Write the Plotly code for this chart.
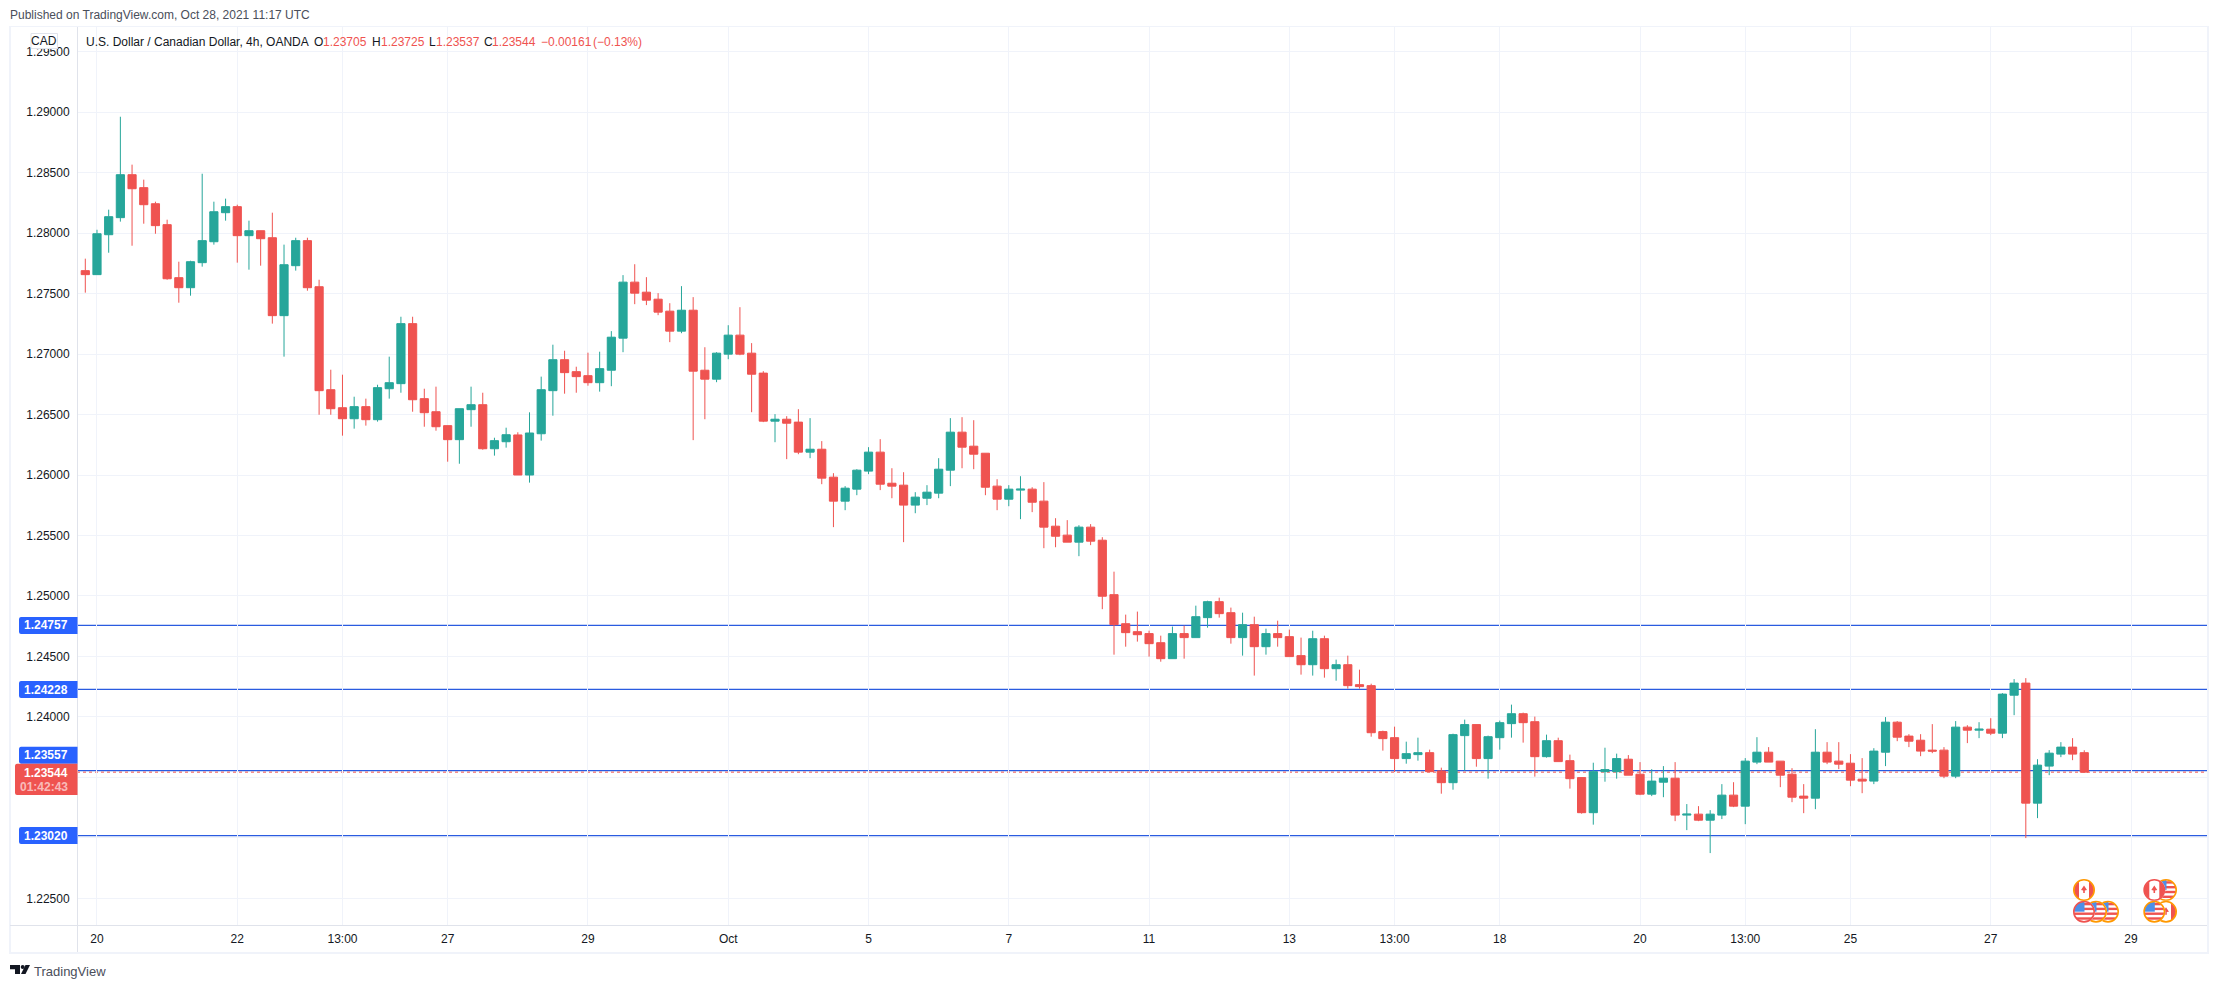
import base64
import plotly.graph_objects as go

opens = [1.27689,1.27656,1.27986,1.28127,1.28482,1.28375,1.28242,1.28069,1.27631,1.27548,
1.27755,1.27928,1.28168,1.28218,1.27978,1.28019,1.27961,1.27317,1.27730,1.27937,
1.27556,1.26705,1.26556,1.26465,1.26565,1.26457,1.26713,1.26755,1.27251,1.26631,
1.26523,1.26408,1.26292,1.26540,1.26581,1.26217,1.26275,1.26331,1.26000,1.26341,
1.26697,1.26953,1.26854,1.26821,1.26763,1.26866,1.27131,1.27594,1.27511,1.27453,
1.27354,1.27189,1.27362,1.26866,1.26792,1.26999,1.27156,1.27007,1.26842,1.26445,
1.26461,1.26437,1.26189,1.26213,1.25982,1.25784,1.25883,1.26032,1.26189,1.25932,
1.25916,1.25751,1.25808,1.25850,1.26040,1.26354,1.26238,1.26180,1.25908,1.25800,
1.25875,1.25883,1.25784,1.25577,1.25503,1.25445,1.25569,1.25461,1.25011,1.24771,
1.24705,1.24689,1.24614,1.24482,1.24689,1.24656,1.24821,1.24953,1.24862,1.24656,
1.24763,1.24581,1.24689,1.24664,1.24507,1.24432,1.24647,1.24399,1.24432,1.24267,
1.24259,1.23879,1.23829,1.23656,1.23689,1.23705,1.23554,1.23457,1.23846,1.23937,
1.23656,1.23829,1.23945,1.24027,1.23961,1.23672,1.23804,1.23639,1.23499,1.23209,
1.23548,1.23548,1.23651,1.23527,1.23362,1.23461,1.23494,1.23189,1.23197,1.23147,
1.23189,1.23354,1.23263,1.23627,1.23709,1.23635,1.23527,1.23346,1.23329,1.23709,
1.23635,1.23618,1.23486,1.23470,1.23709,1.23957,1.23842,1.23808,1.23726,1.23726,
1.23511,1.23916,1.23891,1.23899,1.23866,1.24180,1.24280,1.23288,1.23594,1.23693,
1.23751,1.23705]

highs = [1.27788,1.28027,1.28193,1.28961,1.28565,1.28441,1.28259,1.28110,1.27763,1.27771,
1.28490,1.28259,1.28284,1.28234,1.28102,1.28019,1.28168,1.27904,1.27961,1.27961,
1.27614,1.26870,1.26829,1.26647,1.26631,1.26746,1.26978,1.27308,1.27308,1.26713,
1.26730,1.26408,1.26548,1.26730,1.26680,1.26308,1.26391,1.26353,1.26518,1.26813,
1.27077,1.27027,1.26895,1.27011,1.27019,1.27189,1.27652,1.27742,1.27635,1.27503,
1.27420,1.27561,1.27470,1.27056,1.27015,1.27238,1.27387,1.27090,1.26858,1.26503,
1.26486,1.26544,1.26470,1.26280,1.26015,1.25908,1.26048,1.26230,1.26296,1.26056,
1.26023,1.25858,1.25916,1.26139,1.26470,1.26478,1.26453,1.26180,1.25965,1.25916,
1.25990,1.25899,1.25941,1.25643,1.25627,1.25585,1.25594,1.25486,1.25201,1.24846,
1.24871,1.24713,1.24672,1.24747,1.24755,1.24920,1.24961,1.24986,1.24904,1.24862,
1.24829,1.24730,1.24796,1.24722,1.24656,1.24713,1.24672,1.24474,1.24507,1.24391,
1.24275,1.23887,1.23920,1.23796,1.23829,1.23730,1.23581,1.23862,1.23978,1.23937,
1.23846,1.23970,1.24102,1.24036,1.24003,1.23854,1.23829,1.23689,1.23499,1.23622,
1.23746,1.23697,1.23685,1.23627,1.23569,1.23594,1.23627,1.23280,1.23263,1.23230,
1.23445,1.23461,1.23660,1.23833,1.23751,1.23635,1.23577,1.23445,1.23899,1.23792,
1.23792,1.23693,1.23660,1.23742,1.23999,1.23966,1.23858,1.23858,1.23941,1.23751,
1.23966,1.23932,1.23957,1.23990,1.24197,1.24313,1.24321,1.23651,1.23726,1.23792,
1.23825,1.23725]

lows = [1.27507,1.27656,1.27837,1.28094,1.27895,1.28077,1.27994,1.27614,1.27424,1.27482,
1.27722,1.27904,1.28102,1.27755,1.27697,1.27730,1.27251,1.26978,1.27689,1.27523,
1.26498,1.26498,1.26325,1.26383,1.26408,1.26441,1.26631,1.26680,1.26523,1.26399,
1.26366,1.26110,1.26093,1.26399,1.26209,1.26160,1.26226,1.26000,1.25937,1.26284,
1.26490,1.26672,1.26680,1.26738,1.26689,1.26734,1.27015,1.27412,1.27404,1.27321,
1.27098,1.27172,1.26288,1.26461,1.26767,1.26957,1.26990,1.26519,1.26437,1.26271,
1.26131,1.26172,1.26139,1.25924,1.25569,1.25709,1.25833,1.26007,1.25875,1.25808,
1.25445,1.25684,1.25751,1.25808,1.25908,1.26056,1.26048,1.25833,1.25709,1.25742,
1.25635,1.25693,1.25395,1.25403,1.25445,1.25329,1.25420,1.24891,1.24515,1.24581,
1.24623,1.24499,1.24457,1.24482,1.24482,1.24656,1.24738,1.24821,1.24606,1.24507,
1.24342,1.24515,1.24581,1.24499,1.24350,1.24342,1.24325,1.24300,1.24234,1.24234,
1.23837,1.23722,1.23545,1.23614,1.23639,1.23545,1.23366,1.23399,1.23554,1.23589,
1.23490,1.23730,1.23829,1.23788,1.23507,1.23664,1.23631,1.23408,1.23201,1.23110,
1.23465,1.23490,1.23519,1.23354,1.23346,1.23337,1.23139,1.23065,1.23139,1.22875,
1.23156,1.23255,1.23114,1.23610,1.23627,1.23420,1.23296,1.23205,1.23238,1.23610,
1.23569,1.23428,1.23370,1.23445,1.23594,1.23800,1.23751,1.23676,1.23701,1.23494,
1.23494,1.23784,1.23825,1.23850,1.23825,1.24015,1.22999,1.23164,1.23519,1.23668,
1.23643,1.23537]

closes = [1.27656,1.27994,1.28135,1.28482,1.28366,1.28234,1.28061,1.27622,1.27548,1.27763,
1.27937,1.28176,1.28218,1.27978,1.28019,1.27953,1.27317,1.27738,1.27937,1.27548,
1.26697,1.26548,1.26465,1.26565,1.26457,1.26722,1.26763,1.27251,1.26622,1.26515,
1.26399,1.26292,1.26548,1.26581,1.26217,1.26284,1.26333,1.26000,1.26347,1.26705,
1.26953,1.26846,1.26813,1.26763,1.26879,1.27139,1.27594,1.27503,1.27445,1.27346,
1.27189,1.27362,1.26858,1.26792,1.27007,1.27156,1.26999,1.26833,1.26445,1.26461,
1.26428,1.26189,1.26213,1.25974,1.25784,1.25891,1.26040,1.26189,1.25924,1.25908,
1.25751,1.25817,1.25858,1.26048,1.26354,1.26230,1.26172,1.25899,1.25800,1.25883,
1.25883,1.25775,1.25569,1.25494,1.25445,1.25569,1.25453,1.24998,1.24763,1.24697,
1.24680,1.24606,1.24482,1.24689,1.24656,1.24829,1.24953,1.24854,1.24656,1.24763,
1.24581,1.24689,1.24656,1.24499,1.24432,1.24647,1.24399,1.24432,1.24259,1.24251,
1.23870,1.23821,1.23656,1.23697,1.23705,1.23548,1.23457,1.23854,1.23937,1.23656,
1.23837,1.23953,1.24027,1.23953,1.23672,1.23804,1.23631,1.23490,1.23209,1.23548,
1.23565,1.23656,1.23519,1.23362,1.23470,1.23494,1.23189,1.23197,1.23147,1.23197,
1.23354,1.23263,1.23635,1.23709,1.23627,1.23519,1.23337,1.23329,1.23709,1.23627,
1.23610,1.23478,1.23470,1.23718,1.23957,1.23833,1.23800,1.23718,1.23718,1.23511,
1.23916,1.23891,1.23899,1.23866,1.24189,1.24280,1.23288,1.23602,1.23701,1.23751,
1.23693,1.23544]

x_tick_positions = [1, 13, 22, 31, 43, 55, 67, 79, 91, 103, 112, 121, 133, 142, 151, 163, 175]
x_tick_labels = ["20", "22", "13:00", "27", "29", "Oct", "5", "7", "11", "13", "13:00", "18", "20", "13:00", "25", "27", "29"]
y_ticks = [1.225, 1.23, 1.235, 1.24, 1.245, 1.25, 1.255, 1.26, 1.265, 1.27, 1.275, 1.28, 1.285, 1.29, 1.295]
# 1.23000 and 1.23500 sit under the price tags in the reference, so they have no visible label
y_tick_labels = ["1.22500", "", "", "1.24000", "1.24500", "1.25000", "1.25500", "1.26000", "1.26500",
                 "1.27000", "1.27500", "1.28000", "1.28500", "1.29000", "1.29500"]
level_prices = [1.24757, 1.24228, 1.23557, 1.2302]
level_label_centres = [625.5, 689.5, 755.2, 835.5]
last_price = 1.23544

W, H = 2218, 988
L, R, T, B = 77, 2207, 27, 925
FONT = "Liberation Sans"
UP, DOWN, BLUE = "#26a69a", "#ef5350", "#2962ff"
LEVEL_LINE = "#2a5be0"
LINE = "#e0e3eb"
BAND = "#f0f3fa"
TEXT = "#131722"


def xp(px):
    return (px - L) / (R - L)


def yp(py):
    return (B - py) / (B - T)


def rect(x0, y0, x1, y1, fill=None, line=None, lw=1, layer="above"):
    return dict(type="rect", xref="paper", yref="paper", x0=xp(x0), x1=xp(x1), y0=yp(y0), y1=yp(y1),
                fillcolor=fill or "rgba(0,0,0,0)", line=dict(color=line or "rgba(0,0,0,0)", width=lw if line else 0),
                layer=layer)


def path(points, fill, r=None):
    d = "M" + " L".join(f"{xp(a):.6f},{yp(b):.6f}" for a, b in points) + " Z"
    return dict(type="path", xref="paper", yref="paper", path=d, fillcolor=fill, line=dict(width=0), layer="above")


def label_box(x0, y0, x1, y1, fill):
    c = 2
    pts = [(x0 + c, y0), (x1, y0), (x1, y1), (x0 + c, y1), (x0 + 0.6, y1 - 0.6), (x0, y1 - c), (x0, y0 + c), (x0 + 0.6, y0 + 0.6)]
    return path(pts, fill)


def text(px, py, s, size=12, color=TEXT, anchor="left", bold=False):
    return dict(xref="paper", yref="paper", x=xp(px), y=yp(py), text=f"<b>{s}</b>" if bold else s,
                showarrow=False, xanchor=anchor, yanchor="middle", align=anchor,
                font=dict(family=FONT, size=size, color=color), borderpad=0, borderwidth=0)


def flag_image(kind, ring, px, py):
    if kind == "us":
        stripes = "".join(f'<rect x="0" y="{y}" width="24" height="2.4" fill="#ef5350"/>' for y in (3.2, 8, 12.8, 17.6))
        body = stripes + '<rect x="0" y="0" width="12.5" height="12" fill="#4d8fe8"/>'
    else:
        body = ('<rect x="0" y="0" width="7" height="24" fill="#ef5350"/>'
                '<rect x="17" y="0" width="7" height="24" fill="#ef5350"/>'
                '<path d="M12 7.5 L15 12 L12.8 12.4 L12.8 15 L11.2 15 L11.2 12.4 L9 12 Z" fill="#ef5350"/>')
    svg = ('<svg xmlns="http://www.w3.org/2000/svg" width="24" height="24" viewBox="0 0 24 24">'
           '<defs><clipPath id="c"><circle cx="12" cy="12" r="10"/></clipPath></defs>'
           '<circle cx="12" cy="12" r="11" fill="#ffffff"/>'
           f'<g clip-path="url(#c)">{body}</g>'
           f'<circle cx="12" cy="12" r="10.2" fill="none" stroke="{ring}" stroke-width="1.6"/></svg>')
    src = "data:image/svg+xml;base64," + base64.b64encode(svg.encode()).decode()
    return dict(source=src, xref="paper", yref="paper", x=xp(px), y=yp(py), sizex=24 / (R - L), sizey=24 / (B - T),
                xanchor="center", yanchor="middle", layer="above", sizing="contain")


x = list(range(len(opens)))
fig = go.Figure(go.Candlestick(
    x=x, open=opens, high=highs, low=lows, close=closes,
    increasing=dict(line=dict(color=UP, width=1), fillcolor=UP),
    decreasing=dict(line=dict(color=DOWN, width=1), fillcolor=DOWN),
    whiskerwidth=0,
))

shapes = []
for p in level_prices:
    shapes.append(dict(type="line", xref="paper", yref="y", x0=0, x1=1, y0=p, y1=p,
                       line=dict(color=LEVEL_LINE, width=1.3), layer="below"))
shapes.append(dict(type="line", xref="paper", yref="y", x0=0, x1=1, y0=last_price, y1=last_price,
                   line=dict(color=DOWN, width=1, dash="dot"), layer="below"))

# frame and axis rules
shapes += [
    rect(9, 26, 2209, 27, fill=BAND),
    rect(9, 27, 11, 954, fill=BAND),
    rect(2207, 27, 2209, 954, fill=BAND),
    rect(9, 952, 2209, 954, fill=BAND),
    rect(10, 925, 2207, 926, fill=LINE),
    rect(77, 27, 78, 952, fill=LINE),
]
# axis price labels
for c, p in zip(level_label_centres, level_prices):
    shapes.append(label_box(19, c - 8.5, 77.5, c + 8.5, BLUE))
shapes.append(label_box(15, 763.7, 77.5, 795, DOWN))
# currency button
shapes.append(dict(type="path", xref="paper", yref="paper", layer="above",
                   path=("M{} {} L{} {} L{} {} L{} {} Z".format(xp(31), yp(33.5), xp(57.5), yp(33.5), xp(57.5), yp(48.5), xp(31), yp(48.5))),
                   fillcolor="#ffffff", line=dict(color=LINE, width=1)))
# TradingView logo
shapes.append(path([(10, 965), (20, 965), (20, 974), (15, 974), (15, 969.3), (10, 969.3)], "#131722"))
shapes.append(dict(type="circle", xref="paper", yref="paper", x0=xp(20.7), x1=xp(24.7), y0=yp(965), y1=yp(969),
                   fillcolor="#131722", line=dict(width=0), layer="above"))
shapes.append(path([(25.5, 965), (30, 965), (25.5, 974), (21, 974)], "#131722"))

annotations = [
    text(10, 15, "Published on TradingView.com, Oct 28, 2021 11:17 UTC", 12, "#4a4e5a"),
    text(86, 41.7, "U.S. Dollar / Canadian Dollar, 4h, OANDA", 12, TEXT),
    text(313.5, 41.7, "O", 12, TEXT), text(322.5, 41.7, "1.23705", 12, DOWN),
    text(371.5, 41.7, "H", 12, TEXT), text(380.5, 41.7, "1.23725", 12, DOWN),
    text(429, 41.7, "L", 12, TEXT), text(436, 41.7, "1.23537", 12, DOWN),
    text(484, 41.7, "C", 12, TEXT), text(492, 41.7, "1.23544", 12, DOWN),
    text(541, 41.7, "\u22120.00161", 12, DOWN), text(593, 41.7, "(\u22120.13%)", 12, DOWN),
    text(44.2, 41.3, "CAD", 12, TEXT, anchor="center"),
    text(33.5, 971, "TradingView", 13, "#4a4e5a"),
    text(68, 772.5, "1.23544", 12, "#ffffff", anchor="right", bold=True),
    text(68, 786.7, "01:42:43", 12, "rgba(255,255,255,0.62)", anchor="right", bold=True),
]
for c, p in zip(level_label_centres, level_prices):
    annotations.append(text(68, c, f"{p:.5f}", 12, "#ffffff", anchor="right", bold=True))

images = [
    flag_image("us", "#ff9800", 2108, 911.7),
    flag_image("us", "#ff9800", 2096, 911.7),
    flag_image("us", "#ef5350", 2084, 911.7),
    flag_image("ca", "#ff9800", 2084, 890),
    flag_image("us", "#ff9800", 2166, 890),
    flag_image("ca", "#ef5350", 2154.3, 890),
    flag_image("ca", "#ff9800", 2166, 911.7),
    flag_image("us", "#ff9800", 2154.3, 911.7),
]

fig.update_layout(
    width=W, height=H, margin=dict(l=L, r=W - R, t=T, b=H - B, pad=0),
    paper_bgcolor="#ffffff", plot_bgcolor="#ffffff", showlegend=False,
    font=dict(family=FONT, size=12, color=TEXT),
    shapes=shapes, annotations=annotations, images=images,
    hovermode=False, boxgap=0,
    xaxis=dict(range=[-0.71, 181.5], tickmode="array", tickvals=x_tick_positions, ticktext=x_tick_labels,
               showgrid=True, gridcolor=BAND, gridwidth=1, zeroline=False, showline=False,
               rangeslider=dict(visible=False), ticks="outside", ticklen=3, tickcolor="rgba(0,0,0,0)",
               tickfont=dict(family=FONT, size=12, color=TEXT), tickangle=0),
    yaxis=dict(range=[1.222807, 1.297027], tickmode="array", tickvals=y_ticks, ticktext=y_tick_labels,
               showgrid=True, gridcolor=BAND, gridwidth=1, zeroline=False, showline=False,
               ticks="outside", ticklen=4, tickcolor="rgba(0,0,0,0)",
               tickfont=dict(family=FONT, size=12, color=TEXT)),
)

fig.write_html("out.html", config=dict(displayModeBar=False),
               post_script="document.body.style.margin='0';document.documentElement.style.overflow='hidden';")
